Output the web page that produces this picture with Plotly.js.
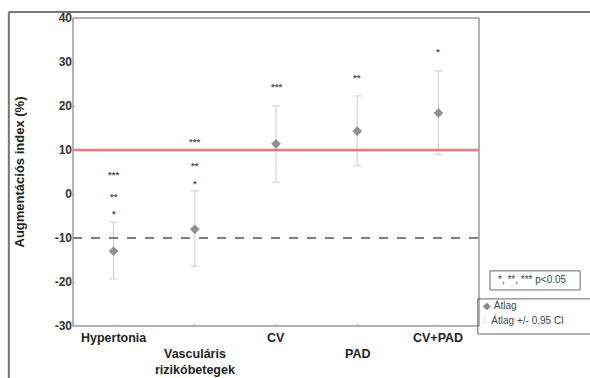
<!DOCTYPE html>
<html><head><meta charset="utf-8">
<script src="https://cdn.plot.ly/plotly-3.0.1.min.js"></script>
<style>html,body{margin:0;padding:0;background:#fff}#chart{width:590px;height:378px}</style>
</head><body><div id="chart"></div>
<script>
const categories = ["Hypertonia", "Vasculáris<br>rizikóbetegek", "CV", "PAD", "CV+PAD"];
const labelOffsetLines = [0, 1, 0, 1, 0];
const means = [-13.0, -8.0, 11.4, 14.3, 18.4];
const ciUpper = [-6.4, 0.7, 20.0, 22.3, 28.0];
const ciLower = [-19.3, -16.4, 2.7, 6.4, 9.0];
const starLabels = [["***", "**", "*"], ["***", "**", "*"], ["***"], ["**"], ["*"]];
const starY = [[4.5, -0.5, -4.5], [12.0, 6.4, 2.5], [24.5], [26.4], [32.3]];
const refHigh = 10;
const refLow = -10;
const yTicks = [40, 30, 20, 10, 0, -10, -20, -30];

const FONT = 'Arial, Liberation Sans, sans-serif';
const xIdx = categories.map((c, i) => i);
const trace = {
  x: xIdx, y: means, type: 'scatter', mode: 'markers',
  marker: {symbol: 'diamond', size: 7, color: '#8f8f8f', line: {color: '#888', width: 0.5}},
  error_y: {type: 'data', symmetric: false,
    array: means.map((m, i) => ciUpper[i] - m),
    arrayminus: means.map((m, i) => m - ciLower[i]),
    color: '#cdcdcd', thickness: 1, width: 4},
  showlegend: false, hoverinfo: 'skip'
};

const annotations = [];
categories.forEach((c, i) => {
  annotations.push({x: i, y: 0, xref: 'x', yref: 'paper', yanchor: 'top', yshift: -3 - labelOffsetLines[i] * 16,
    text: '<b>' + c + '</b>', showarrow: false, align: 'center',
    font: {family: FONT, size: 12.5, color: '#222'}});
  starLabels[i].forEach((s, j) => {
    annotations.push({x: i, y: starY[i][j], xref: 'x', yref: 'y', text: '<b>' + s + '</b>', showarrow: false,
      font: {family: FONT, size: 9.5, color: '#555'}});
  });
});
// legend texts
annotations.push({x: 1.041, y: 0.150, xref: 'paper', yref: 'paper', xanchor: 'left', yanchor: 'middle',
  text: '*, **, *** p<0.05', showarrow: false, font: {family: FONT, size: 10, color: '#444'}});
annotations.push({x: 1.004, y: 0.068, xref: 'paper', yref: 'paper', xanchor: 'left', yanchor: 'middle',
  text: '<span style="color:#888">◆</span> Átlag', showarrow: false, font: {family: FONT, size: 10, color: '#444'}});
annotations.push({x: 1.004, y: 0.020, xref: 'paper', yref: 'paper', xanchor: 'left', yanchor: 'middle',
  text: '<span style="color:#ccc">⁞</span>  Átlag +/- 0.95 CI', showarrow: false, font: {family: FONT, size: 10, color: '#444'}});

const shapes = [
  {type: 'line', xref: 'paper', yref: 'y', x0: 0, x1: 1, y0: refHigh, y1: refHigh, line: {color: '#e8787a', width: 2.5}},
  {type: 'line', xref: 'paper', yref: 'y', x0: 0, x1: 1, y0: refLow, y1: refLow, line: {color: '#555', width: 1.5, dash: 'dash'}},
  // plot frame
  {type: 'rect', xref: 'paper', yref: 'paper', x0: 0, x1: 1, y0: 0, y1: 1, line: {color: '#9a9a9a', width: 1.5}},
  // outer border
  {type: 'line', xref: 'paper', yref: 'paper', x0: -0.158, x1: -0.158, y0: 1.0195, y1: -0.3, line: {color: '#777', width: 2}},
  {type: 'line', xref: 'paper', yref: 'paper', x0: -0.158, x1: 1.3, y0: 1.0195, y1: 1.0195, line: {color: '#777', width: 2}},
  // legend boxes
  {type: 'rect', xref: 'paper', yref: 'paper', x0: 1.027, x1: 1.249, y0: 0.117, y1: 0.179, line: {color: '#666', width: 1}},
  {type: 'rect', xref: 'paper', yref: 'paper', x0: 0.997, x1: 1.3, y0: -0.026, y1: 0.088, line: {color: '#666', width: 1}}
];

const layout = {
  width: 590, height: 378,
  margin: {l: 73, r: 111, t: 18, b: 52},
  paper_bgcolor: '#fff', plot_bgcolor: '#fff',
  xaxis: {range: [-0.5, 4.5], tickvals: xIdx, ticktext: xIdx.map(() => ''), showgrid: false, zeroline: false,
    ticks: 'inside', ticklen: 2, tickcolor: '#bbb', showline: false},
  yaxis: {range: [-30, 40], tickvals: yTicks, ticktext: yTicks.map(v => '<b>' + v + '</b>'), showgrid: false, zeroline: false,
    ticks: 'inside', ticklen: 2, tickcolor: '#bbb', showline: false,
    tickfont: {family: FONT, size: 12, color: '#333'},
    title: {text: '<b>Augmentációs index (%)</b>', standoff: 27, font: {family: FONT, size: 13, color: '#222'}}},
  annotations: annotations, shapes: shapes, showlegend: false
};
Plotly.newPlot('chart', [trace], layout, {displayModeBar: false, staticPlot: true});
</script></body></html>
